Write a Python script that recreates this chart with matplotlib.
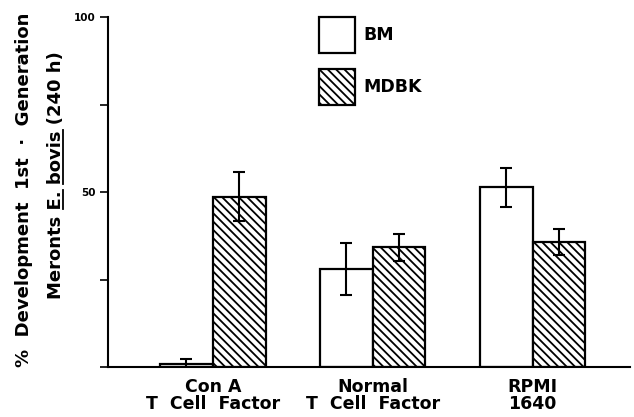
import matplotlib
matplotlib.use("Agg")
import matplotlib.pyplot as plt
from matplotlib.lines import Line2D
import numpy as np

plt.rcParams['font.family'] = ['DejaVu Sans']
plt.rcParams['font.weight'] = 'bold'
plt.rcParams['hatch.linewidth'] = 1.3

categories = ["Con A\nT  Cell  Factor", "Normal\nT  Cell  Factor", "RPMI\n1640"]
series_names = ["BM", "MDBK"]
bm_values = [1.0, 28.0, 51.3]
bm_errors = [1.3, 7.5, 5.7]
mdbk_values = [48.7, 34.2, 35.8]
mdbk_errors = [7.0, 3.8, 3.7]
y_ticks = [0, 25, 50, 75, 100]
y_tick_labels = ["", "", "50", "", "100"]

fig = plt.figure(figsize=(6.34, 4.17), dpi=100)
ax = fig.add_axes([108/634, 50/417, (630-108)/634, (367-17)/417])

x = np.arange(len(categories))
w = 0.33
err_kw = dict(elinewidth=1.5, capsize=4, capthick=1.5, ecolor='black')
ax.bar(x - w/2, bm_values, w, yerr=bm_errors, color='white', edgecolor='black',
       linewidth=1.6, error_kw=err_kw, label=series_names[0])
ax.bar(x + w/2, mdbk_values, w, yerr=mdbk_errors, color='white', edgecolor='black',
       linewidth=1.6, hatch='\\\\\\\\', error_kw=err_kw, label=series_names[1])

ax.set_xlim(-0.656, 2.61)
ax.set_ylim(0, 100)
ax.set_xticks(x)
ax.set_xticklabels(categories, fontsize=12.5, fontweight='bold', linespacing=0.92)
ax.tick_params(axis='x', length=0, pad=8)
ax.set_yticks(y_ticks)
ax.set_yticklabels(y_tick_labels, fontsize=7.5, fontweight='bold')
ax.tick_params(axis='y', length=6, width=1.2, direction='out', pad=3)
for s in ['top', 'right']:
    ax.spines[s].set_visible(False)
ax.spines['left'].set_linewidth(1.5)
ax.spines['bottom'].set_linewidth(1.5)

leg = ax.legend(loc='upper left', bbox_to_anchor=(0.404, 1.0), frameon=False,
                prop={'weight': 'bold', 'size': 12.5}, handlelength=2.1,
                handleheight=2.8, labelspacing=0.95, handletextpad=0.45,
                borderpad=0, borderaxespad=0)

fs = 13
fig.text(24/634, 1 - 190/417, "%  Development  1st  ·  Generation", rotation=90,
         ha='center', va='center', fontsize=fs, fontweight='bold')
line2 = "Meronts E. bovis (240 h)"
t2 = fig.text(56/634, 1 - 175/417, line2, rotation=90, ha='center', va='center',
              fontsize=fs, fontweight='bold')

# underline "E." and "bovis"
fig.canvas.draw()
r = fig.canvas.get_renderer()
bb = t2.get_window_extent(r)

def width(s):
    tt = fig.text(0, 0, s, fontsize=fs, fontweight='bold')
    ww = tt.get_window_extent(r).width
    tt.remove()
    return ww

W = fig.bbox.width
H = fig.bbox.height
xu = bb.x1 - 0.12 * fs * 100 / 72
for a, b in [("Meronts ", "Meronts E."), ("Meronts E. ", "Meronts E. bovis")]:
    y0 = bb.y0 + width(a)
    y1 = bb.y0 + width(b)
    fig.add_artist(Line2D([xu / W, xu / W], [y0 / H, y1 / H], color='black', lw=1.3,
                          transform=fig.transFigure))

fig.savefig("out.png", dpi=100)
